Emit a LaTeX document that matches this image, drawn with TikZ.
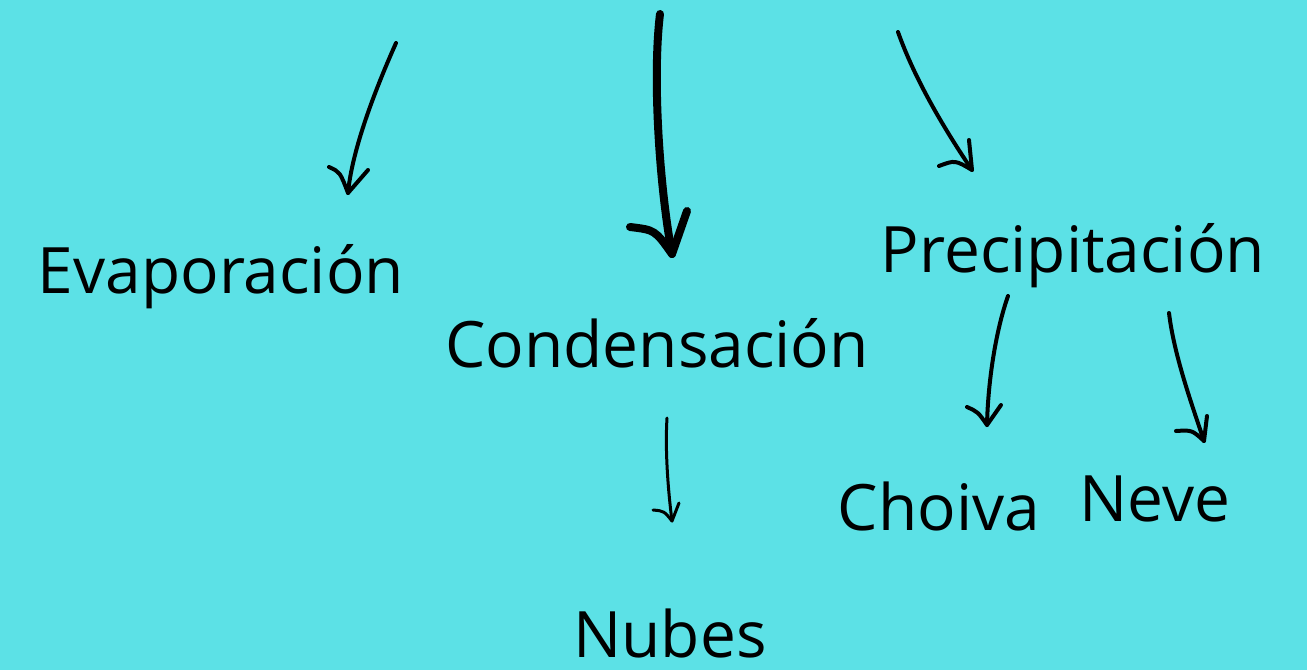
\documentclass[tikz,border=0pt]{standalone}
\usepackage{fontspec}
\setmainfont{Open Sans}
\definecolor{sky}{HTML}{5CE1E6}
\tikzset{
  word/.style={anchor=base, inner sep=0pt, font=\fontsize{64}{70}\selectfont},
  sketch/.style={line width=#1, line cap=round, line join=round},
  sketch/.default=4pt
}
\begin{document}
\begin{tikzpicture}[x=1pt, y=-1pt]
  \fill[sky] (0,0) rectangle (1307,670);
  \useasboundingbox (0,0) rectangle (1307,670);

  % words
  \node[word] (evap) at (221,293) {Evaporación};
  \node[word] (cond) at (657,367) {Condensación};
  \node[word] (prec) at (1073,272) {Precipitación};
  \node[word] (nubes) at (670,657) {Nubes};
  \node[word] (choiva) at (939,530) {Choiva};
  \node[word] (neve) at (1155,521) {Neve};

  % arrow ends
  \coordinate (evapS) at (396,43);   \coordinate (evapT) at (348,193);
  \coordinate (condS) at (660,14);   \coordinate (condT) at (672,254);
  \coordinate (precS) at (898,32);   \coordinate (precT) at (972,170);
  \coordinate (choivaS) at (1008,296); \coordinate (choivaT) at (987,425);
  \coordinate (neveS) at (1169,313); \coordinate (neveT) at (1204,441);
  \coordinate (nubesS) at (667,418); \coordinate (nubesT) at (672,521);

  % shafts
  \draw[sketch] (evapS) .. controls (375,90) and (352,150) .. (evapT);
  \draw[sketch=8pt] (condS) .. controls (652,80) and (660,190) .. (condT);
  \draw[sketch] (precS) .. controls (915,80) and (945,130) .. (precT);
  \draw[sketch] (choivaS) .. controls (996,330) and (988,380) .. (choivaT);
  \draw[sketch] (neveS) .. controls (1174,355) and (1192,405) .. (neveT);
  \draw[sketch=3pt] (nubesS) .. controls (665,450) and (668,490) .. (nubesT);

  % heads
  \draw[sketch] (329,167) .. controls (340,172) .. (evapT) -- (368,170);
  \draw[sketch=8pt] (630,227) .. controls (655,230) .. (condT) -- (687,211);
  \draw[sketch] (939,166) .. controls (955,160) .. (precT) -- (969,140);
  \draw[sketch] (967,407) .. controls (978,412) .. (choivaT) -- (1001,405);
  \draw[sketch] (1176,431) .. controls (1192,430) .. (neveT) -- (1207,416);
  \draw[sketch=3pt] (653,510) .. controls (664,511) .. (nubesT) -- (679,503);
\end{tikzpicture}
\end{document}
